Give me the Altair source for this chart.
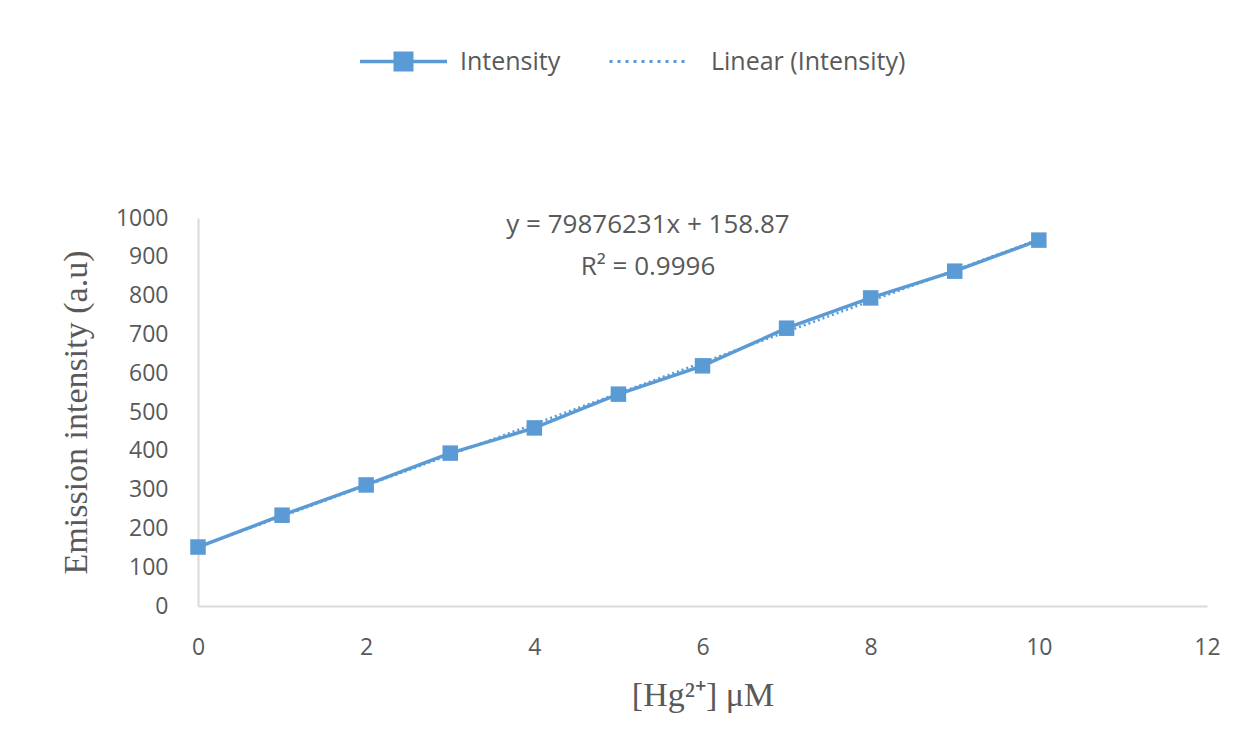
import altair as alt
import pandas as pd

conc = [0, 1, 2, 3, 4, 5, 6, 7, 8, 9, 10]
intensity = [152, 234, 312, 394, 459, 546, 619, 716, 794, 863, 943]
series_main = "Intensity"
series_fit = "Linear (Intensity)"
eq_line1 = "y = 79876231x + 158.87"
eq_line2 = "R² = 0.9996"
x_ticks = [0, 2, 4, 6, 8, 10, 12]
y_ticks = [0, 100, 200, 300, 400, 500, 600, 700, 800, 900, 1000]

BLUE = "#5b9bd5"
GRAY = "#595959"
SANS = "Open Sans"
SERIF = "Liberation Serif"

df = pd.DataFrame({"x": conc, "y": intensity, "s": series_main})

xs = alt.Scale(domain=[0, 12], nice=False)
ys = alt.Scale(domain=[0, 1000], nice=False)

x_axis = alt.Axis(values=x_ticks, format="d", title="[Hg²⁺] μM", labelPadding=30,
                  titlePadding=19)
y_axis = alt.Axis(values=y_ticks, format="d", title="Emission intensity (a.u)",
                  labelPadding=30, titlePadding=22)

sym_main = "M-1,0H1M-0.19,-0.19H0.19V0.19H-0.19Z"

main = alt.Chart(df).mark_line(
    strokeWidth=3.5,
    point=alt.OverlayMarkDef(shape="square", size=240, filled=True, color=BLUE, opacity=1),
).encode(
    x=alt.X("x:Q", scale=xs, axis=x_axis),
    y=alt.Y("y:Q", scale=ys, axis=y_axis),
    color=alt.Color("s:N", scale=alt.Scale(range=[BLUE]),
                    legend=alt.Legend(title=None, orient="none", legendX=160, legendY=-202,
                                      symbolType=sym_main, symbolSize=7569,
                                      symbolStrokeWidth=3.5, symbolFillColor=BLUE,
                                      labelOffset=11)),
)

fit = alt.Chart(df).transform_regression("x", "y").transform_calculate(
    s=f"'{series_fit}'"
).mark_line(strokeWidth=2.5, strokeDash=[2, 3]).encode(
    x=alt.X("x:Q", scale=xs, axis=x_axis),
    y=alt.Y("y:Q", scale=ys, axis=y_axis),
    color=alt.Color("s:N", scale=alt.Scale(range=[BLUE]),
                    legend=alt.Legend(title=None, orient="none", legendX=410, legendY=-198,
                                      symbolType="stroke", symbolSize=6400,
                                      symbolStrokeWidth=3, symbolDash=[3, 5],
                                      labelOffset=20)),
)

t1 = alt.Chart(pd.DataFrame({"t": [eq_line1]})).mark_text(
    font=SANS, fontSize=26, color=GRAY, align="center", baseline="middle"
).encode(x=alt.value(450), y=alt.value(7), text="t:N")
t2 = alt.Chart(pd.DataFrame({"t": [eq_line2]})).mark_text(
    font=SANS, fontSize=26, color=GRAY, align="center", baseline="middle"
).encode(x=alt.value(450), y=alt.value(49), text="t:N")

chart = alt.layer(main, fit, t1, t2).resolve_scale(color="independent").properties(
    width=1009, height=388,
    autosize=alt.AutoSizeParams(type="none"),
    padding={"left": 198, "top": 218, "right": 39, "bottom": 147},
    background="white",
).configure_view(stroke=None).configure_axis(
    grid=False, ticks=False, domainColor="#d9d9d9", domainWidth=2,
    labelOverlap=False, labelFlush=False,
    labelFont=SANS, labelFontSize=23, labelColor=GRAY,
    titleFont=SERIF, titleFontSize=34, titleColor=GRAY, titleFontWeight="normal",
).configure_legend(
    labelFont=SANS, labelFontSize=25, labelColor=GRAY, labelLimit=0,
)

chart.save("out.html", embed_options={"renderer": "svg", "actions": False})
